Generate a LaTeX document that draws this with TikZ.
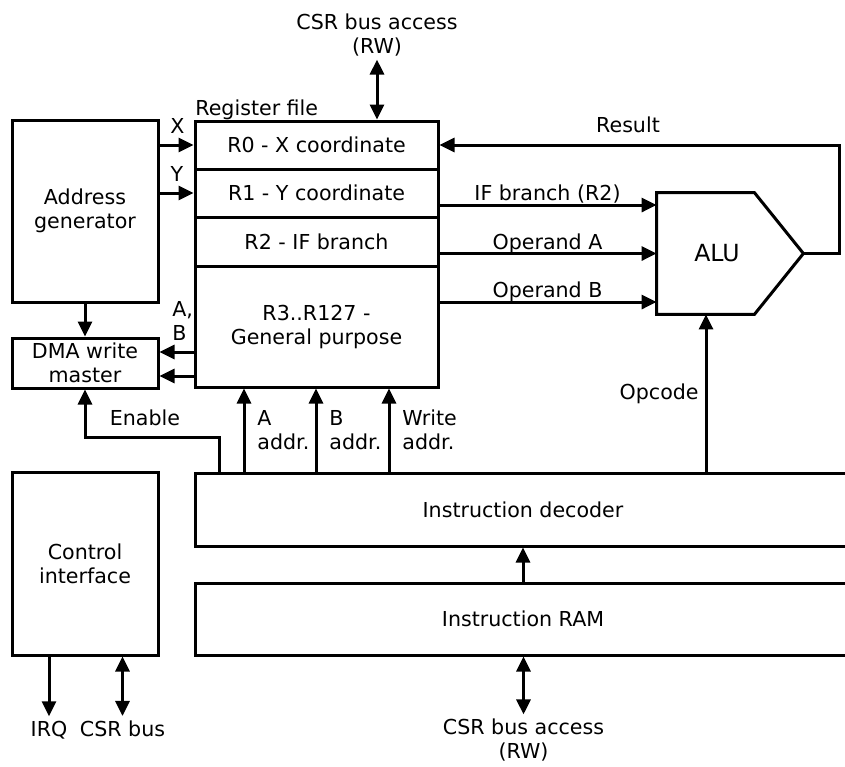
\documentclass[tikz,border=0pt]{standalone}
\usepackage{fontspec}
\setmainfont{DejaVu Sans}
\usetikzlibrary{arrows.meta}

\begin{document}
\begin{tikzpicture}
[x=0.5pt,y=-0.5pt,font=\fontsize{10.3}{12}\selectfont,
  blockDecorate/.style={draw,line width=1.5pt,inner sep=0pt,align=center},%
  arrowDecorate/.style={-{Triangle[length=7.5pt,width=7pt]},line width=1.5pt},%
  busDecorate/.style={{Triangle[length=7.5pt,width=7pt]}-{Triangle[length=7.5pt,width=7pt]},line width=1.5pt},%
  labelDecorate/.style={inner sep=0pt,align=left}]
\useasboundingbox (0,0) rectangle (845,766);
%% blocks
\foreach \nodename/\x/\y/\w/\h/\txt in {
  addrgen/85/211/73pt/91pt/{Address\\generator},
  dma/85/363/73pt/25pt/{DMA write\\master},
  ctrl/85/563.5/73pt/91.5pt/{Control\\interface},
  r0/316.5/145/121.5pt/24pt/{R0 - X coordinate},
  r1/316.5/193/121.5pt/24pt/{R1 - Y coordinate},
  r2/316.5/241.5/121.5pt/24.5pt/{R2 - IF branch},
  r3/316.5/326.5/121.5pt/60.5pt/{R3..R127 -\\General purpose},
  dec/523/509.5/328pt/36.5pt/{Instruction decoder},
  ram/523/619/328pt/36pt/{Instruction RAM}}
{
  \node (\nodename) at (\x,\y) [blockDecorate,minimum width=\w,minimum height=\h] {\txt};
}
%% alu
\node (alu) at (730,253.5) [minimum width=73pt,minimum height=60.5pt,inner sep=0pt] {};
\draw[line width=1.5pt] (alu.north west) -- ([xshift=-24.5pt]alu.north east) -- (alu.east)
  -- ([xshift=-24.5pt]alu.south east) -- (alu.south west) -- cycle;
\node (alutext) at ([xshift=-6.5pt]alu.center) {\fontsize{11.8}{14}\selectfont ALU};
%% labels
\node (regfile) [labelDecorate,anchor=base west] at (195,115) {Register file};
\foreach \nodename/\x/\y/\txt in {
  xlab/177.5/133/X, ylab/177/181/Y, reslab/628/132/Result,
  iflab/547.5/200.5/{IF branch (R2)}, opalab/547.5/249/{Operand A},
  opblab/547.5/297/{Operand B}, enlab/145/425/Enable,
  irqlab/49/736/IRQ, csrlab/122.5/736/{CSR bus}}
{
  \node (\nodename) [labelDecorate,anchor=base] at (\x,\y) {\txt};
}
\node (opclab) [labelDecorate,anchor=base east] at (699,399) {Opcode};
\node (ablab) [labelDecorate,anchor=west] at (172,321) {A,\\B};
\node (csrtop) [labelDecorate,align=center] at (377,35) {CSR bus access\\(RW)};
\node (csrbot) [labelDecorate,align=center] at (523.5,740) {CSR bus access\\(RW)};
%% connectors
\draw[arrowDecorate] (addrgen.east |- r0.west) -- (r0.west);
\draw[arrowDecorate] (addrgen.east |- r1.west) -- (r1.west);
\draw[arrowDecorate] (addrgen.south) -- (dma.north);
\coordinate (dmaa) at ([yshift=5.5pt]dma.east);
\coordinate (dmab) at ([yshift=-6.5pt]dma.east);
\draw[arrowDecorate] (r3.west |- dmaa) -- (dmaa);
\draw[arrowDecorate] (r3.west |- dmab) -- (dmab);
\coordinate (enbend) at (219,437);
\draw[arrowDecorate] (dec.north -| enbend) -- (enbend) -| (dma.south);
\foreach \linename/\nodename/\x/\txt in {aline/alab/244/A, bline/blab/316/B, wline/wlab/389/Write}
{
  \coordinate (\linename) at (\x,430);
  \node (\nodename) [labelDecorate,anchor=west] at ([xshift=6.5pt]\linename) {\txt\\addr.};
  \draw[arrowDecorate] (dec.north -| \linename) -- (r3.south -| \linename);
}
\foreach \nodename/\s in {ifb/24.25pt, opa/0pt, opb/-24.25pt}
{
  \coordinate (\nodename) at ([yshift=\s]alu.west);
  \draw[arrowDecorate] (r0.east |- \nodename) -- (\nodename);
}
\coordinate (rescorner) at (839,145);
\draw[arrowDecorate] (alu.east) -| (rescorner) -- (r0.east);
\coordinate (opcline) at (706,400);
\draw[arrowDecorate] (dec.north -| opcline) -- (alu.south -| opcline);
\draw[arrowDecorate] (ram.north) -- (dec.south);
\draw[busDecorate,shorten <=1.5pt] (csrtop.south) -- (csrtop.south |- r0.north);
\draw[busDecorate,shorten >=2pt] (ram.south -| csrbot.north) -- (csrbot.north);
\draw[arrowDecorate,shorten >=2pt] (ctrl.south -| irqlab.north) -- (irqlab.north);
\draw[busDecorate,shorten >=2pt] (ctrl.south -| csrlab.north) -- (csrlab.north);
\end{tikzpicture}
\end{document}
